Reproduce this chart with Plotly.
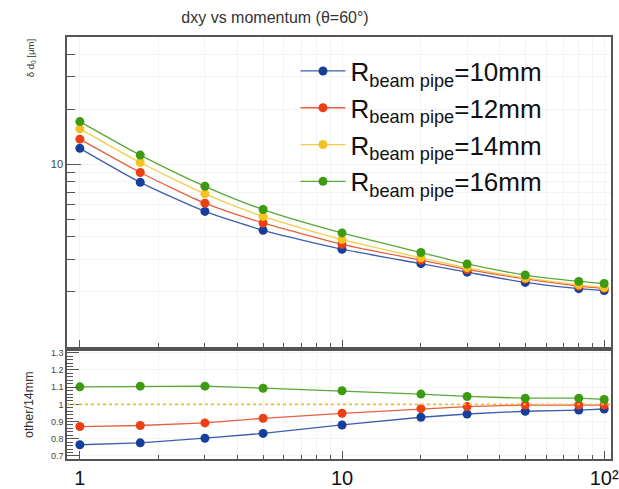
import plotly.graph_objects as go

momentum = [1, 1.7, 3, 5, 10, 20, 30, 50, 80, 100]

labels = ["R<sub>beam pipe</sub>=10mm", "R<sub>beam pipe</sub>=12mm",
          "R<sub>beam pipe</sub>=14mm", "R<sub>beam pipe</sub>=16mm"]

d0_10mm = [12.2, 7.95, 5.51, 4.34, 3.42, 2.85, 2.56, 2.25, 2.08, 2.03]
d0_12mm = [13.7, 9.0, 6.11, 4.76, 3.64, 2.98, 2.65, 2.35, 2.15, 2.09]
d0_14mm = [15.6, 10.2, 6.87, 5.17, 3.86, 3.07, 2.71, 2.38, 2.18, 2.11]
d0_16mm = [17.1, 11.2, 7.56, 5.64, 4.2, 3.28, 2.84, 2.47, 2.28, 2.22]

ratio_10mm = [0.765, 0.776, 0.803, 0.831, 0.880, 0.925, 0.944, 0.960, 0.967, 0.973]
ratio_12mm = [0.871, 0.877, 0.892, 0.919, 0.948, 0.975, 0.987, 0.996, 0.996, 0.996]
ratio_16mm = [1.102, 1.106, 1.106, 1.094, 1.079, 1.060, 1.046, 1.036, 1.036, 1.029]
ratio_ref = 1.0

colors = ["#163f9c", "#ee3e14", "#f7c221", "#3c9b12"]
line_colors = ["#3d5fae", "#e5603f", "#f3cd4e", "#5aa83a"]

fig = go.Figure()

for lab, vals, c, lc in zip(labels, [d0_10mm, d0_12mm, d0_14mm, d0_16mm], colors, line_colors):
    fig.add_trace(go.Scatter(
        x=momentum, y=vals, name=lab, mode="lines+markers",
        line=dict(color=lc, width=1.3, shape="spline", smoothing=0.6),
        marker=dict(color=c, size=9),
        xaxis="x2", yaxis="y",
    ))

for vals, c, lc in zip([ratio_10mm, ratio_12mm, ratio_16mm],
                       [colors[0], colors[1], colors[3]],
                       [line_colors[0], line_colors[1], line_colors[3]]):
    fig.add_trace(go.Scatter(
        x=momentum, y=vals, mode="lines+markers", showlegend=False,
        line=dict(color=lc, width=1.3),
        marker=dict(color=c, size=9),
        xaxis="x", yaxis="y2",
    ))

fig.add_shape(type="line", xref="x domain", yref="y2", x0=0, x1=1,
              y0=ratio_ref, y1=ratio_ref,
              line=dict(color="#f5bd2e", width=1.6, dash="dot"))

frame = "#555555"
font = "Liberation Sans, Arial, sans-serif"
xminor = [2, 3, 4, 5, 6, 7, 8, 9, 20, 30, 40, 50, 60, 70, 80, 90]
xrange_ = [-0.049, 2.026]
grid = "#f4f4f4"

fig.update_layout(
    width=619, height=489,
    margin=dict(l=67, r=0, t=37, b=27),
    paper_bgcolor="white", plot_bgcolor="white",
    font=dict(family=font, color="#333333"),
    title=dict(text="dxy vs momentum (θ=60°)", x=275 / 619, xanchor="center",
               y=1 - 17 / 489, yref="container", yanchor="middle",
               font=dict(size=16, color="#333333", family=font)),
    showlegend=True,
    legend=dict(x=0.42, y=0.975, xanchor="left", yanchor="top",
                bgcolor="rgba(255,255,255,0)", font=dict(size=26, color="#111111", family=font),
                itemwidth=45, tracegroupgap=0),
    xaxis=dict(type="log", range=xrange_, domain=[0, 1], anchor="y2",
               tickmode="array", tickvals=[1, 10, 100], ticktext=["1", "10", "10²"],
               ticklabeloverflow="allow",
               ticks="inside", ticklen=8, tickwidth=1, tickcolor=frame,
               tickfont=dict(size=20, color="#111111"),
               minor=dict(tickmode="array", tickvals=xminor, ticks="inside", ticklen=4,
                          tickcolor=frame, showgrid=True, gridcolor=grid),
               showline=True, linecolor=frame, linewidth=1.5, mirror=True,
               showgrid=True, gridcolor=grid, zeroline=False),
    xaxis2=dict(type="log", range=xrange_, domain=[0, 1], anchor="y", matches="x",
                tickmode="array", tickvals=[1, 10, 100], showticklabels=False,
                ticks="inside", ticklen=7, tickwidth=1, tickcolor=frame,
                minor=dict(tickmode="array", tickvals=xminor, ticks="inside", ticklen=4,
                           tickcolor=frame, showgrid=True, gridcolor=grid),
                showline=True, linecolor=frame, linewidth=1.5, mirror=True,
                showgrid=True, gridcolor=grid, zeroline=False),
    yaxis=dict(type="log", range=[0, 1.696], domain=[0.266, 1], anchor="x2",
               tickmode="array", tickvals=[10], ticktext=["10"],
               ticks="inside", ticklen=14, tickwidth=1, tickcolor=frame,
               tickfont=dict(size=11, color="#444444"),
               minor=dict(tickmode="array", tickvals=[2, 3, 4, 5, 6, 7, 8, 9, 20, 30, 40],
                          ticks="inside", ticklen=8, tickcolor=frame,
                          showgrid=True, gridcolor=grid),
               showline=True, linecolor=frame, linewidth=1.5, mirror=True,
               showgrid=True, gridcolor=grid, zeroline=False),
    yaxis2=dict(range=[0.682, 1.312], domain=[0, 0.2565], anchor="x",
                tickmode="array", tickvals=[0.7, 0.8, 0.9, 1.0, 1.1, 1.2, 1.3],
                ticktext=["0.7", "0.8", "0.9", "1", "1.1", "1.2", "1.3"],
                ticks="inside", ticklen=12, tickwidth=1, tickcolor=frame,
                tickfont=dict(size=9, color="#444444"),
                minor=dict(tickmode="linear", tick0=0.7, dtick=0.02, ticks="inside",
                           ticklen=6, tickcolor=frame, showgrid=False),
                showline=True, linecolor=frame, linewidth=1.5, mirror=True,
                showgrid=True, gridcolor=grid, zeroline=False),
)

fig.add_annotation(text="δ d<sub>0</sub> [μm]", textangle=-90, showarrow=False,
                   xref="paper", yref="paper", x=-0.066, y=0.95,
                   xanchor="center", yanchor="middle",
                   font=dict(size=9.5, color="#333333", family=font))
fig.add_annotation(text="other/14mm", textangle=-90, showarrow=False,
                   xref="paper", yref="paper", x=-0.07, y=0.13,
                   xanchor="center", yanchor="middle",
                   font=dict(size=12.5, color="#333333", family=font))

fig.write_html("out.html")
